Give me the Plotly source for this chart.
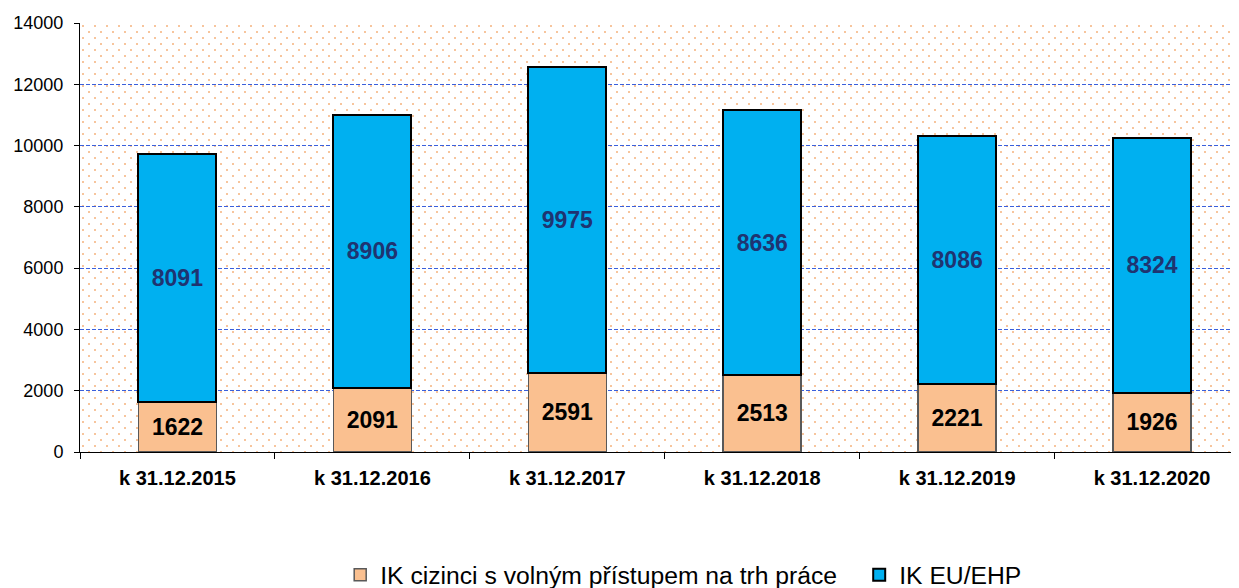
import base64
import plotly.graph_objects as go

# ---- data ----
categories = ["k 31.12.2015", "k 31.12.2016", "k 31.12.2017",
              "k 31.12.2018", "k 31.12.2019", "k 31.12.2020"]
free_access = [1622, 2091, 2591, 2513, 2221, 1926]
eu_ehp = [8091, 8906, 9975, 8636, 8086, 8324]
series_names = ["IK cizinci s volným přístupem na trh práce", "IK EU/EHP"]
y_tick_values = [0, 2000, 4000, 6000, 8000, 10000, 12000, 14000]
y_tick_labels = [str(v) for v in y_tick_values]

FONT = "Liberation Sans, Arial, sans-serif"
W, H = 1239, 588
# the page body adds an 8px offset, margins compensate for it
ML, MR, MT, MB = 72, 8, 15, 144
PW, PH = W - ML - MR, H - MT - MB

# dotted background pattern for the plot area (decoration only)
svg = (
    f'<svg xmlns="http://www.w3.org/2000/svg" width="{PW}" height="{PH}" '
    f'viewBox="0 0 {PW} {PH}">'
    '<defs><pattern id="p" width="12" height="12" patternUnits="userSpaceOnUse">'
    '<circle cx="3" cy="3" r="1" fill="#f5b27c"/>'
    '<circle cx="9" cy="9" r="1" fill="#f5b27c"/>'
    '</pattern></defs>'
    '<rect width="100%" height="100%" fill="url(#p)"/></svg>'
)
svg_uri = "data:image/svg+xml;base64," + base64.b64encode(svg.encode()).decode()

fig = go.Figure()
fig.add_trace(go.Bar(
    x=categories, y=free_access, name=series_names[0],
    marker=dict(color="#FAC090", line=dict(color="#595959", width=1.5)),
    text=free_access, texttemplate="%{text}", textposition="inside",
    insidetextanchor="middle", constraintext="none",
    textfont=dict(family=FONT, size=23, color="#000000", weight="bold"),
    legendwidth=474,
))
fig.add_trace(go.Bar(
    x=categories, y=eu_ehp, name=series_names[1],
    marker=dict(color="#00B0F0", line=dict(color="#000000", width=2)),
    text=eu_ehp, texttemplate="%{text}", textposition="inside",
    insidetextanchor="middle", constraintext="none",
    textfont=dict(family=FONT, size=23, color="#1F3471", weight="bold"),
    legendwidth=150,
))

fig.update_layout(
    width=W, height=H,
    margin=dict(l=ML, r=MR, t=MT, b=MB, pad=0, autoexpand=False),
    barmode="stack", bargap=0.6,
    paper_bgcolor="white", plot_bgcolor="white",
    font=dict(family=FONT, color="#000000"),
    images=[dict(source=svg_uri, xref="paper", yref="paper", x=0, y=1,
                 sizex=1, sizey=1, xanchor="left", yanchor="top",
                 sizing="stretch", layer="below")],
    legend=dict(orientation="h", x=0.2245, xanchor="left", y=-0.287,
                yanchor="middle",
                font=dict(family=FONT, size=24.7, color="#000000"),
                bgcolor="rgba(0,0,0,0)", traceorder="normal"),
    showlegend=True,
)
fig.update_xaxes(
    range=[-0.5, 5.446], showline=True, linecolor="#000000", linewidth=1,
    ticks="outside", tickson="boundaries", ticklen=6, tickcolor="#000000",
    tickfont=dict(family=FONT, size=20, color="#000000", weight="bold"),
    ticklabelstandoff=8,
    showgrid=False, zeroline=False, automargin=False,
)
fig.update_yaxes(
    range=[0, 14000], tickvals=y_tick_values, ticktext=y_tick_labels,
    showline=True, linecolor="#000000", linewidth=1, ticks="outside",
    ticklen=5, tickcolor="#000000", ticklabelstandoff=7,
    tickfont=dict(family=FONT, size=18, color="#000000"),
    showgrid=True, gridcolor="#3A5FDC", gridwidth=1, griddash="4px,2px",
    zeroline=False, automargin=False,
)

fig.write_html("out.html")
